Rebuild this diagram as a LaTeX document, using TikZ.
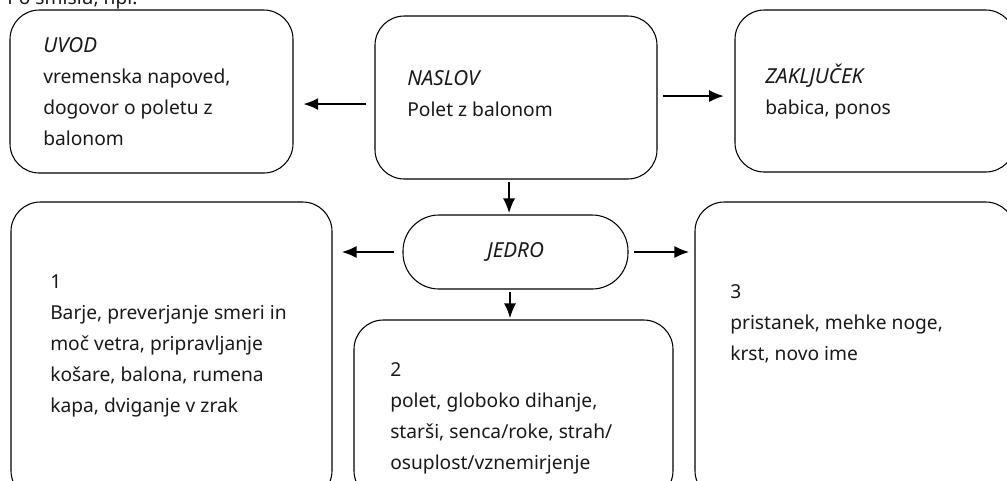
\documentclass[tikz,border=0pt]{standalone}
\usepackage{fontspec}
\setmainfont{Noto Sans}
\usetikzlibrary{arrows.meta}
\tikzset{
  okvir/.style={draw, thick, rounded corners=22pt, inner sep=0pt},
  besedilo/.style={anchor=north west, inner sep=0pt, align=left, text=black!90, font=\fontsize{14.4}{23.25}\selectfont},
  naziv/.style={font=\fontsize{15.5}{17}\selectfont\itshape},
  strelica/.style={->, line width=1.2pt},
}
\begin{document}
\begin{tikzpicture}[x=0.75pt, y=-0.75pt, >={Latex[length=11pt,width=9pt]}]
    \useasboundingbox (0,0) rectangle (1007,480);
    \clip (0,0) rectangle (1007,480);
    \node[besedilo, anchor=base west] (uvodnik) at (7,4) {Po smislu, npr.};
    \node[okvir, minimum width=212.25pt, minimum height=122.25pt] (uvod) at (151.5,91.5) {};
    \node[okvir, minimum width=211.5pt, minimum height=122.25pt] (naslov) at (516,97.5) {};
    \node[okvir, minimum width=210pt, minimum height=121.5pt] (zakljucek) at (875,91) {};
    \node[okvir, naziv, rounded corners=27pt, minimum width=168.75pt, minimum height=55.5pt, text=black!90] (jedro) at (515.5,252) {JEDRO};
    \node[okvir, minimum width=240.75pt, minimum height=223.5pt] (del1) at (171.5,351) {};
    \node[okvir, minimum width=239.25pt, minimum height=135pt] (del2) at (513.5,410) {};
    \node[okvir, minimum width=240pt, minimum height=223.5pt] (del3) at (855,351) {};
    \node[besedilo] (uvodtxt) at (43,37) {{\fontsize{15.5}{17}\selectfont\itshape UVOD}\\vremenska napoved,\\dogovor o poletu z\\balonom};
    \node[besedilo] (naslovtxt) at (407,70) {{\fontsize{15.5}{17}\selectfont\itshape NASLOV}\\Polet z balonom};
    \node[besedilo] (zakljucektxt) at (765,64) {{\fontsize{15.5}{17}\selectfont\itshape ZAKLJUČEK}\\babica, ponos};
    \node[besedilo] (del1txt) at (50,275) {1\\Barje, preverjanje smeri in\\moč vetra, pripravljanje\\košare, balona, rumena\\kapa, dviganje v zrak};
    \node[besedilo] (del2txt) at (390,362) {2\\polet, globoko dihanje,\\starši, senca/roke, strah/\\osuplost/vznemirjenje};
    \node[besedilo] (del3txt) at (730,284) {3\\pristanek, mehke noge,\\krst, novo ime};
    \coordinate (n1) at ([yshift=-4.9pt]naslov.west);
    \coordinate (n2) at ([yshift=1.1pt]naslov.east);
    \coordinate (n3) at ([xshift=-5.2pt]naslov.south);
    \coordinate (j3) at ([xshift=-4.1pt]jedro.south);
    \draw[strelica, shorten <=6pt, shorten >=7.5pt] (n1) -- (n1 -| uvod.east);
    \draw[strelica, shorten <=4pt, shorten >=8pt] (n2) -- (n2 -| zakljucek.west);
    \draw[strelica, shorten <=2pt, shorten >=1pt] (n3) -- (n3 |- jedro.north);
    \draw[strelica, shorten <=6pt, shorten >=7pt] (jedro.west) -- (jedro.west -| del1.east);
    \draw[strelica, shorten <=4pt, shorten >=4pt] (jedro.east) -- (jedro.east -| del3.west);
    \draw[strelica, shorten <=2pt, shorten >=1pt] (j3) -- (j3 |- del2.north);
\end{tikzpicture}
\end{document}
